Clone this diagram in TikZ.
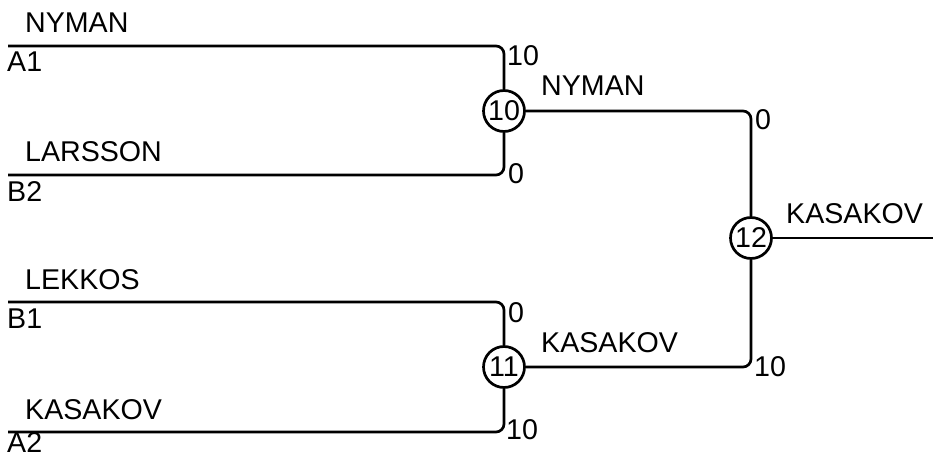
\documentclass[tikz,border=0pt]{standalone}
\usepackage{fontspec}
\setmainfont{Liberation Sans}
\begin{document}
\begin{tikzpicture}[x=1pt,y=-1pt,
  every node/.style={font=\fontsize{28.6}{28.6}\selectfont},
  wire/.style={line width=2.7pt, rounded corners=8pt},
  match/.style={circle, draw, line width=2.7pt, minimum size=41pt, inner sep=0pt},
  lbl/.style={anchor=base west, inner sep=0pt}]
\useasboundingbox (0,0) rectangle (933,457);
% player line starts
\coordinate (p1) at (8,46);
\coordinate (p2) at (8,175);
\coordinate (p3) at (8,302);
\coordinate (p4) at (8,432);
\coordinate (fin) at (933,238);
% match circles
\node[match] (m10) at (504,111) {10};
\node[match] (m11) at (504,367) {11};
\node[match] (m12) at (751,238) {12};
% connectors
\draw[wire] (p1) -| (m10);
\draw[wire] (p2) -| (m10);
\draw[wire] (p3) -| (m11);
\draw[wire] (p4) -| (m11);
\draw[wire] (m10) -| (m12);
\draw[wire] (m11) -| (m12);
\draw[wire] (m12) -- (fin);
% names and seeds
\node[lbl] (n1) at (25,33) {NYMAN};
\node[lbl] (s1) at (7,72) {A1};
\node[lbl] (n2) at (25,162) {LARSSON};
\node[lbl] (s2) at (7,201) {B2};
\node[lbl] (n3) at (25,289) {LEKKOS};
\node[lbl] (s3) at (7,328) {B1};
\node[lbl] (n4) at (25,419) {KASAKOV};
\node[lbl, text depth=0pt] (s4) at (7,452) {A2};
\node[lbl] (w10) at (541,96) {NYMAN};
\node[lbl] (w11) at (541,352) {KASAKOV};
\node[lbl] (w12) at (786,223) {KASAKOV};
% scores
\node[lbl] (c1) at (507,66) {10};
\node[lbl] (c2) at (508,183) {0};
\node[lbl] (c3) at (508,322) {0};
\node[lbl] (c4) at (506,439) {10};
\node[lbl] (c5) at (755,130) {0};
\node[lbl] (c6) at (754,376) {10};
\end{tikzpicture}
\end{document}
